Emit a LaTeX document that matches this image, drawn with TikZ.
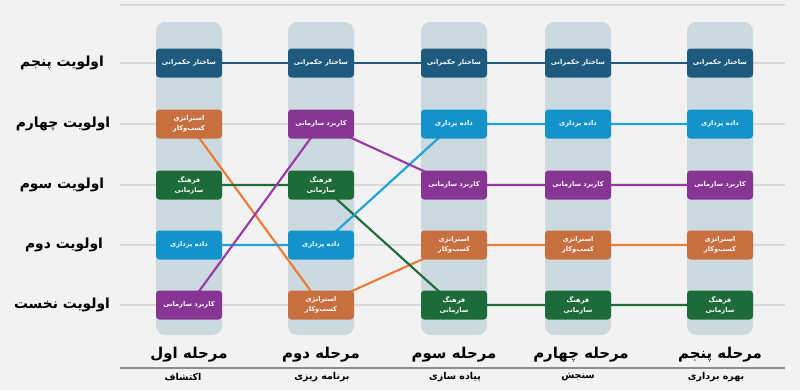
\documentclass[tikz,border=0pt]{standalone}
\usepackage{fontspec}
\newfontfamily\fa[Script=Arabic]{DejaVu Sans}
\TeXXeTstate=1
\newcommand{\faR}[1]{\beginR #1\endR}
\definecolor{bgc}{HTML}{F2F2F2}
\definecolor{gridc}{HTML}{D9D9D9}
\definecolor{colc}{HTML}{CCD9DF}
\definecolor{govc}{HTML}{1D5A7E}
\definecolor{busc}{HTML}{C86F40}
\definecolor{busl}{HTML}{EE7A38}
\definecolor{culc}{HTML}{1E6B3A}
\definecolor{datc}{HTML}{1393C9}
\definecolor{datl}{HTML}{1CA3DA}
\definecolor{appc}{HTML}{873593}
\definecolor{appl}{HTML}{9A3AA6}
\pgfdeclarelayer{bg}
\pgfdeclarelayer{lines}
\pgfsetlayers{bg,lines,main}
\tikzset{
  box/.style={rectangle, rounded corners=2.5pt, minimum width=49.5pt, minimum height=21.75pt,
    text=white, font=\fa\bfseries\fontsize{5}{7.4}\selectfont, align=center, inner sep=1pt},
  gov/.style={box, fill=govc},
  bus/.style={box, fill=busc},
  cul/.style={box, fill=culc},
  dat/.style={box, fill=datc},
  app/.style={box, fill=appc},
  link/.style={line width=1.6pt},
  gridline/.style={draw=gridc, line width=0.8pt},
  rowlab/.style={font=\fa\bfseries\fontsize{10.4}{12}\selectfont, text=black},
  stagelab/.style={font=\fa\bfseries\fontsize{11.2}{13}\selectfont, text=black},
  sublab/.style={font=\fa\bfseries\fontsize{7.1}{9}\selectfont, text=black},
}
\begin{document}
\begin{tikzpicture}[x=0.75pt,y=-0.75pt]
\useasboundingbox (0,0) rectangle (800,390);
\begin{pgfonlayer}{bg}
\fill[bgc] (0,0) rectangle (800,390);
\foreach \yy in {5,63,124,185,245,305} \draw[gridline] (120,\yy) -- (785,\yy);
\draw[draw=black!45, line width=0.9pt] (120,368) -- (785,368);
\foreach \xx in {189,321,454,578,720}
  \fill[colc, rounded corners=7pt] (\xx-33,22) rectangle (\xx+33,335);
\end{pgfonlayer}

% row labels
\node[rowlab] (l5) at (62,63) {\faR{اولویت پنجم}};
\node[rowlab] (l4) at (63,124) {\faR{اولویت چهارم}};
\node[rowlab] (l3) at (62,185) {\faR{اولویت سوم}};
\node[rowlab] (l2) at (64,245) {\faR{اولویت دوم}};
\node[rowlab] (l1) at (62,305) {\faR{اولویت نخست}};

% stage 1
\node[gov] (g1) at (189,63) {\faR{ساختار حکمرانی}};
\node[bus] (b1) at (189,124) {\faR{استراتژی}\\\faR{کسب‌وکار}};
\node[cul] (c1) at (189,185) {\faR{فرهنگ}\\\faR{سازمانی}};
\node[dat] (d1) at (189,245) {\faR{داده پردازی}};
\node[app] (a1) at (189,305) {\faR{کاربرد سازمانی}};
% stage 2
\node[gov] (g2) at (321,63) {\faR{ساختار حکمرانی}};
\node[app] (a2) at (321,124) {\faR{کاربرد سازمانی}};
\node[cul] (c2) at (321,185) {\faR{فرهنگ}\\\faR{سازمانی}};
\node[dat] (d2) at (321,245) {\faR{داده پردازی}};
\node[bus] (b2) at (321,305) {\faR{استراتژی}\\\faR{کسب‌وکار}};
% stage 3
\node[gov] (g3) at (454,63) {\faR{ساختار حکمرانی}};
\node[dat] (d3) at (454,124) {\faR{داده پردازی}};
\node[app] (a3) at (454,185) {\faR{کاربرد سازمانی}};
\node[bus] (b3) at (454,245) {\faR{استراتژی}\\\faR{کسب‌وکار}};
\node[cul] (c3) at (454,305) {\faR{فرهنگ}\\\faR{سازمانی}};
% stage 4
\node[gov] (g4) at (578,63) {\faR{ساختار حکمرانی}};
\node[dat] (d4) at (578,124) {\faR{داده پردازی}};
\node[app] (a4) at (578,185) {\faR{کاربرد سازمانی}};
\node[bus] (b4) at (578,245) {\faR{استراتژی}\\\faR{کسب‌وکار}};
\node[cul] (c4) at (578,305) {\faR{فرهنگ}\\\faR{سازمانی}};
% stage 5
\node[gov] (g5) at (720,63) {\faR{ساختار حکمرانی}};
\node[dat] (d5) at (720,124) {\faR{داده پردازی}};
\node[app] (a5) at (720,185) {\faR{کاربرد سازمانی}};
\node[bus] (b5) at (720,245) {\faR{استراتژی}\\\faR{کسب‌وکار}};
\node[cul] (c5) at (720,305) {\faR{فرهنگ}\\\faR{سازمانی}};

\begin{pgfonlayer}{lines}
\draw[link, govc] (g1.center) -- (g2.center) -- (g3.center) -- (g4.center) -- (g5.center);
\draw[link, busl] (b1.center) -- (b2.center) -- (b3.center) -- (b4.center) -- (b5.center);
\draw[link, culc] (c1.center) -- (c2.center) -- (c3.center) -- (c4.center) -- (c5.center);
\draw[link, datl] (d1.center) -- (d2.center) -- (d3.center) -- (d4.center) -- (d5.center);
\draw[link, appl] (a1.center) -- (a2.center) -- (a3.center) -- (a4.center) -- (a5.center);
\end{pgfonlayer}

% stage labels
\node[stagelab] (t1) at (189,355) {\faR{مرحله اول}};
\node[stagelab] (t2) at (321,355) {\faR{مرحله دوم}};
\node[stagelab] (t3) at (454,355) {\faR{مرحله سوم}};
\node[stagelab] (t4) at (581,355) {\faR{مرحله چهارم}};
\node[stagelab] (t5) at (720,355) {\faR{مرحله پنجم}};
\node[sublab] (s1) at (183,377) {\faR{اکتشاف}};
\node[sublab] (s2) at (322,377) {\faR{برنامه ریزی}};
\node[sublab] (s3) at (455,377) {\faR{پیاده سازی}};
\node[sublab] (s4) at (578,377) {\faR{سنجش}};
\node[sublab] (s5) at (716,377) {\faR{بهره برداری}};
\end{tikzpicture}
\end{document}
